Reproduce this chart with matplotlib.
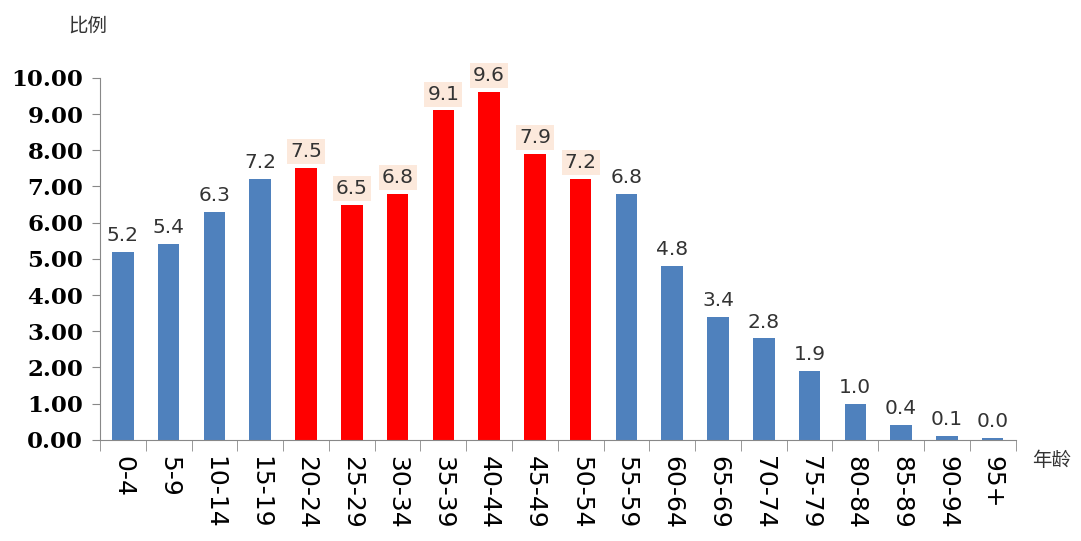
import matplotlib.pyplot as plt
import numpy as np

plt.rcParams['font.family'] = ['DejaVu Sans']

# age groups and share of population (%)
groups = ['0-4', '5-9', '10-14', '15-19', '20-24', '25-29', '30-34', '35-39',
          '40-44', '45-49', '50-54', '55-59', '60-64', '65-69', '70-74',
          '75-79', '80-84', '85-89', '90-94', '95+']
share = [5.2, 5.4, 6.3, 7.2, 7.5, 6.5, 6.8, 9.1, 9.6, 7.9, 7.2, 6.8, 4.8,
         3.4, 2.8, 1.9, 1.0, 0.4, 0.1, 0.04]
highlight = [False] * 4 + [True] * 7 + [False] * 9

blue = '#4F81BD'
red = '#FF0000'

fig = plt.figure(figsize=(10.81, 5.41), dpi=100)
ax = fig.add_axes([0.0925, 0.187, 0.847, 0.669])

x = np.arange(len(groups))
colors = [red if h else blue for h in highlight]
ax.bar(x, share, width=0.47, color=colors, zorder=2)

# value labels
for xi, v, h in zip(x, share, highlight):
    kw = {}
    if h:
        kw['bbox'] = dict(boxstyle='square,pad=0.15', fc='#FCE9DC', ec='none')
    ax.annotate(f'{v:.1f}', (xi, v), xytext=(0, 5), textcoords='offset points',
                ha='center', va='bottom', fontsize=14.5, color='#333333', **kw)

ax.set_xlim(-0.5, len(groups) - 0.5)
ax.set_ylim(0, 10)
ax.set_yticks(np.arange(0, 10.01, 1))
ax.set_yticklabels([f'{t:.2f}' for t in np.arange(0, 10.01, 1)],
                   family='DejaVu Serif', fontweight='bold', fontsize=16.5)

# category labels centred, tick marks on the boundaries
ax.set_xticks(x)
ax.set_xticklabels(groups, rotation=270, fontsize=18, va='top', ha='center')
ax.tick_params(axis='x', which='major', length=0, pad=12)
ax.set_xticks(np.arange(-0.5, len(groups), 1), minor=True)
ax.tick_params(axis='x', which='minor', length=8, color='#888888')
ax.tick_params(axis='y', length=6, color='#888888', pad=6)

for s in ['top', 'right']:
    ax.spines[s].set_visible(False)
ax.spines['left'].set_color('#888888')
ax.spines['bottom'].set_color('#888888')

fig.text(0.063, 0.952, '比例', family=['Noto Sans CJK SC'], fontsize=14,
         color='#333333', ha='left', va='center')
fig.text(0.955, 0.148, '年龄', family=['Noto Sans CJK SC'], fontsize=14,
         color='#333333', ha='left', va='center')

fig.savefig('out.png', dpi=100)
